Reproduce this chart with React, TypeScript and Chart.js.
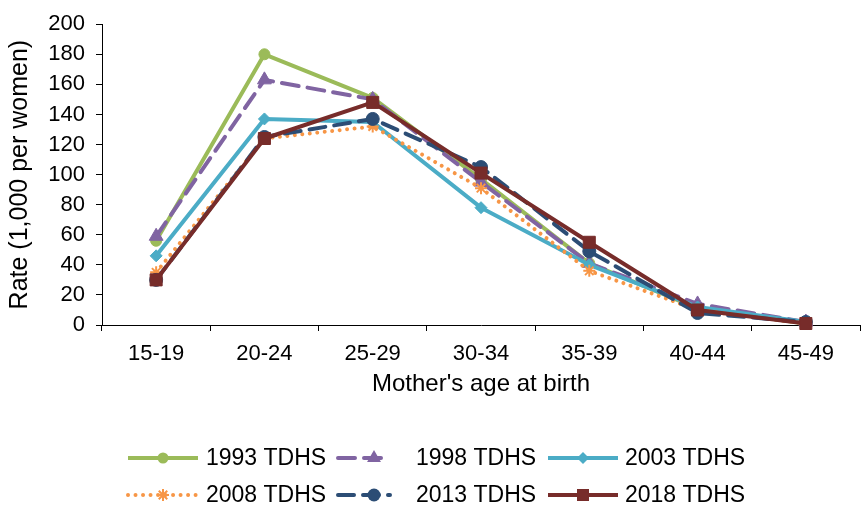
import React, { useEffect, useRef } from "react";
import { Chart, registerables } from "chart.js";

Chart.register(...registerables);

const categories = ["15-19", "20-24", "25-29", "30-34", "35-39", "40-44", "45-49"];
const yTicksMax = 200;
const yTickStep = 20;

const series1993 = [56, 180, 151, 97, 41, 11, 1];
const series1998 = [59, 163, 150, 95, 41, 14, 2];
const series2003 = [46, 137, 135, 78, 40, 12, 2];
const series2008 = [35, 124, 132, 91, 36, 10, 1];
const series2013 = [30, 125, 137, 105, 49, 8, 2];
const series2018 = [30, 124, 148, 101, 55, 10, 1];

const seriesLabels = ["1993 TDHS", "1998 TDHS", "2003 TDHS", "2008 TDHS", "2013 TDHS", "2018 TDHS"];
const yTitle = "Rate (1,000 per women)";
const xTitle = "Mother's age at birth";

const FONT = "'Liberation Sans', Arial, sans-serif";

type Style = {
  color: string;
  dash: number[];
  cap: CanvasLineCap;
  point: string;
  radius: number;
};

const styles: Style[] = [
  { color: "#9BBB59", dash: [], cap: "butt", point: "circle", radius: 5.5 },
  { color: "#8064A2", dash: [17, 9], cap: "round", point: "triangle", radius: 8 },
  { color: "#4BACC6", dash: [], cap: "butt", point: "rectRot", radius: 6 },
  { color: "#F79646", dash: [0.01, 7.5], cap: "round", point: "star", radius: 6 },
  { color: "#2C4D75", dash: [16, 9], cap: "round", point: "circle", radius: 6.5 },
  { color: "#772C2A", dash: [], cap: "butt", point: "rect", radius: 8.5 },
];

function drawMarker(ctx: CanvasRenderingContext2D, kind: string, x: number, y: number, r: number, color: string) {
  ctx.save();
  ctx.setLineDash([]);
  ctx.fillStyle = color;
  ctx.strokeStyle = color;
  ctx.lineWidth = 1.5;
  ctx.beginPath();
  if (kind === "circle") {
    ctx.arc(x, y, r, 0, Math.PI * 2);
    ctx.fill();
  } else if (kind === "triangle") {
    for (let i = 0; i < 3; i++) {
      const a = -Math.PI / 2 + (i * 2 * Math.PI) / 3;
      const px = x + Math.cos(a) * r;
      const py = y + Math.sin(a) * r;
      if (i === 0) ctx.moveTo(px, py);
      else ctx.lineTo(px, py);
    }
    ctx.closePath();
    ctx.fill();
  } else if (kind === "rectRot") {
    ctx.moveTo(x, y - r);
    ctx.lineTo(x + r, y);
    ctx.lineTo(x, y + r);
    ctx.lineTo(x - r, y);
    ctx.closePath();
    ctx.fill();
  } else if (kind === "rect") {
    const s = r * Math.SQRT1_2;
    ctx.rect(x - s, y - s, 2 * s, 2 * s);
    ctx.fill();
  } else if (kind === "star") {
    for (let i = 0; i < 4; i++) {
      const a = (i * Math.PI) / 4;
      ctx.moveTo(x - Math.cos(a) * r, y - Math.sin(a) * r);
      ctx.lineTo(x + Math.cos(a) * r, y + Math.sin(a) * r);
    }
    ctx.lineWidth = 2;
    ctx.stroke();
  }
  ctx.restore();
}

const legendItems = [
  { row: 0, x0: 128, x1: 198, mx: 163, tx: 206 },
  { row: 0, x0: 338, x1: 390, mx: 374, tx: 416 },
  { row: 0, x0: 548, x1: 618, mx: 583, tx: 625 },
  { row: 1, x0: 128, x1: 198, mx: 163, tx: 206 },
  { row: 1, x0: 338, x1: 390, mx: 374, tx: 416 },
  { row: 1, x0: 548, x1: 618, mx: 583, tx: 625 },
];
const legendRowsY = [458, 495];

const legendPlugin = {
  id: "customLegend",
  afterDraw(chart: any) {
    const ctx: CanvasRenderingContext2D = chart.ctx;
    ctx.save();
    seriesLabels.forEach((label, i) => {
      const it = legendItems[i];
      const st = styles[i];
      const y = legendRowsY[it.row];
      ctx.save();
      ctx.strokeStyle = st.color;
      ctx.lineWidth = 4;
      ctx.lineCap = st.cap;
      ctx.setLineDash(st.dash);
      ctx.beginPath();
      ctx.moveTo(it.x0, y);
      ctx.lineTo(it.x1, y);
      ctx.stroke();
      ctx.restore();
      drawMarker(ctx, st.point, it.mx, y, st.radius, st.color);
      ctx.fillStyle = "#000";
      ctx.font = `23px ${FONT}`;
      ctx.textBaseline = "middle";
      ctx.textAlign = "left";
      ctx.fillText(label, it.tx, y + 1);
    });
    ctx.restore();
  },
};

const allSeries = [series1993, series1998, series2003, series2008, series2013, series2018];

export default function App() {
  const canvasRef = useRef<HTMLCanvasElement | null>(null);

  useEffect(() => {
    if (!canvasRef.current) return;
    const datasets = allSeries.map((data, i) => {
      const st = styles[i];
      return {
        label: seriesLabels[i],
        data,
        borderColor: st.color,
        backgroundColor: st.color,
        borderWidth: 4,
        borderDash: st.dash,
        borderCapStyle: st.cap,
        borderJoinStyle: "round" as CanvasLineJoin,
        pointStyle: st.point,
        pointRadius: st.radius,
        pointBackgroundColor: st.color,
        pointBorderColor: st.color,
        pointBorderWidth: st.point === "star" ? 2 : 1,
        tension: 0,
        fill: false,
        clip: 12,
        order: 5 - i,
      };
    });

    const chart = new Chart(canvasRef.current, {
      type: "line",
      data: { labels: categories, datasets: datasets as any },
      options: {
        animation: false,
        responsive: true,
        maintainAspectRatio: false,
        layout: { autoPadding: false, padding: { top: 24, right: 1, bottom: 108, left: 0 } },
        plugins: {
          legend: { display: false },
          tooltip: { enabled: false },
        },
        scales: {
          x: {
            type: "category",
            offset: true,
            afterFit: (scale: any) => {
              scale.height = 78;
              scale.paddingRight = 0;
              scale.paddingLeft = 0;
            },
            grid: {
              display: true,
              offset: true,
              drawOnChartArea: false,
              drawTicks: true,
              tickLength: 6,
              color: "#000",
              lineWidth: 1,
            },
            border: { display: true, color: "#000", width: 1 },
            ticks: {
              color: "#000",
              font: { family: FONT, size: 22 },
              padding: 10,
              maxRotation: 0,
              autoSkip: false,
            },
            title: {
              display: true,
              text: xTitle,
              color: "#000",
              font: { family: FONT, size: 24 },
              padding: { top: 4, bottom: 4 },
            },
          },
          y: {
            min: 0,
            max: yTicksMax,
            afterFit: (scale: any) => {
              scale.width = 102;
            },
            grid: {
              display: true,
              drawOnChartArea: false,
              drawTicks: true,
              tickLength: 6,
              color: "#000",
              lineWidth: 1,
            },
            border: { display: true, color: "#000", width: 1 },
            ticks: {
              stepSize: yTickStep,
              color: "#000",
              font: { family: FONT, size: 22 },
              padding: 11,
            },
            title: {
              display: true,
              text: yTitle,
              color: "#000",
              font: { family: FONT, size: 25 },
              padding: { top: 5, bottom: 4 },
            },
          },
        },
      },
      plugins: [legendPlugin],
    });

    return () => {
      chart.destroy();
    };
  }, []);

  return (
    <div style={{ position: "fixed", left: 0, top: 0, width: 861, height: 511, background: "#fff" }}>
      <canvas ref={canvasRef} />
    </div>
  );
}
